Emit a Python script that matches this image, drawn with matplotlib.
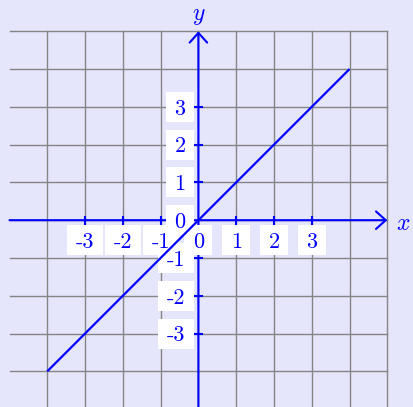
import matplotlib
matplotlib.use("Agg")
import matplotlib.pyplot as plt
from matplotlib.patches import Rectangle

plt.rcParams['mathtext.fontset'] = 'cm'

# ---- data ----
line_x = [-4, 4]
line_y = [-4, 4]
x_ticks = [-3, -2, -1, 1, 2, 3]
y_ticks = [-3, -2, -1, 1, 2, 3]
x_labels = ['-3', '-2', '-1', '0', '1', '2', '3']
x_label_pos = [-3, -2, -1, 0, 1, 2, 3]
y_labels = ['3', '2', '1', '0', '-1', '-2', '-3']
y_label_pos = [3, 2, 1, 0, -1, -2, -3]
grid_v = [-4, -3, -2, -1, 0, 1, 2, 3, 4, 5]
grid_h = [-5, -4, -3, -2, -1, 0, 1, 2, 3, 4, 5]
grid_min, grid_max = -5, 5

# ---- style ----
BG = '#E5E5FC'
BLUE = '#0000FF'
GRID = '#858585'
W, H = 413, 407
U = 37.78          # pixels per unit
OX, OY = 198.4, 220.2  # origin in pixels

fig = plt.figure(figsize=(W / 100, H / 100), dpi=100)
fig.patch.set_facecolor(BG)
ax = fig.add_axes([0, 0, 1, 1])
ax.set_facecolor(BG)
ax.set_xlim(-OX / U, (W - OX) / U)
ax.set_ylim(-(H - OY) / U, OY / U)
ax.axis('off')

px = 1.0 / U

# grid
for v in grid_v:
    ax.plot([v, v], [grid_min, grid_max], color=GRID, lw=1.0, zorder=1)
for h in grid_h:
    ax.plot([grid_min, grid_max], [h, h], color=GRID, lw=1.0, zorder=1)

# axes with arrows
aprops = dict(arrowstyle='->,head_length=0.5,head_width=0.45', color=BLUE,
              lw=1.5, shrinkA=0, shrinkB=0, mutation_scale=14)
ax.annotate('', xy=(grid_max, 0), xytext=(grid_min, 0), arrowprops=aprops, zorder=2)
ax.annotate('', xy=(0, grid_max), xytext=(0, grid_min), arrowprops=aprops, zorder=2)

# tick marks
t = 3.5 * px
for k in x_ticks:
    ax.plot([k, k], [-t, t], color=BLUE, lw=1.5, zorder=2)
for k in y_ticks:
    ax.plot([-t, t], [k, k], color=BLUE, lw=1.5, zorder=2)

def box_w(s):
    return (28 + 8 * (len(s) - 1)) * px

BH = 30 * px
FS = 16

# x tick labels
for s, k in zip(x_labels, x_label_pos):
    w = box_w(s)
    cx, cy = k, -20 * px
    ax.add_patch(Rectangle((cx - w / 2, cy - BH / 2), w, BH, facecolor='white',
                           edgecolor='none', zorder=3))
    ax.text(cx, cy, s, fontfamily='cmr10', fontsize=FS, color=BLUE,
            ha='center', va='center_baseline', zorder=3.5)

# y tick labels
for s, k in zip(y_labels, y_label_pos):
    w = box_w(s)
    right = -4.4 * px
    cx, cy = right - w / 2, k
    ax.add_patch(Rectangle((cx - w / 2, cy - BH / 2), w, BH, facecolor='white',
                           edgecolor='none', zorder=3))
    ax.text(cx, cy, s, fontfamily='cmr10', fontsize=FS, color=BLUE,
            ha='center', va='center_baseline', zorder=3.5)

# line
ax.plot(line_x, line_y, color=BLUE, lw=1.6, zorder=4, solid_capstyle='butt')

# axis names
ax.text((403 - OX) / U, 0, '$x$', fontsize=17, color=BLUE,
        ha='center', va='center_baseline', zorder=5)
ax.text(0, (OY - 12) / U, '$y$', fontsize=17, color=BLUE,
        ha='center', va='center_baseline', zorder=5)

fig.savefig('out.png', dpi=100, facecolor=BG)
